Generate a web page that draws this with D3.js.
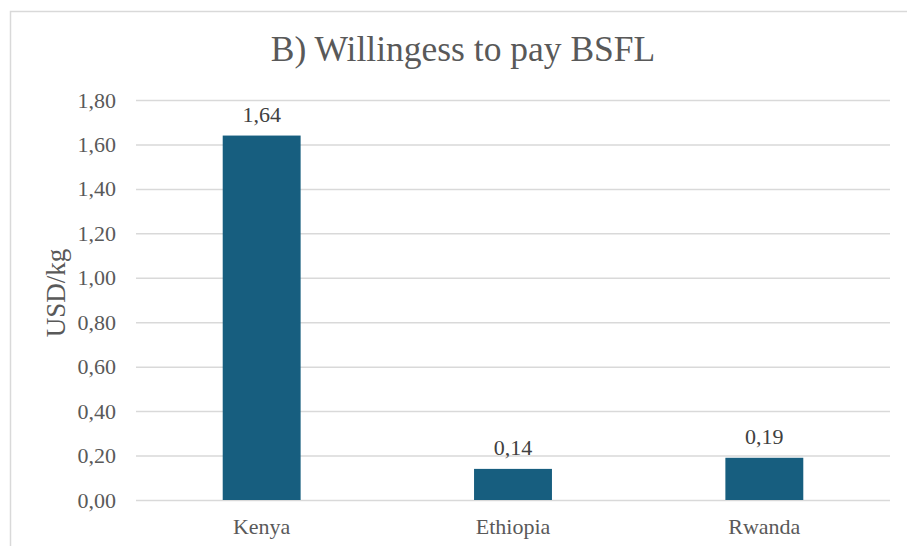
<!DOCTYPE html>
<html>
<head>
<meta charset="utf-8">
<script src="https://cdn.jsdelivr.net/npm/d3@7"></script>
<style>
  html, body { margin: 0; padding: 0; background: #fff; }
  svg { display: block; }
</style>
</head>
<body>
<svg id="chart" width="907" height="546"></svg>
<script>
// Willingness to pay for BSFL, USD per kg
const titleText = "B) Willingess to pay BSFL";
const yAxisLabel = "USD/kg";
const countries = ["Kenya", "Ethiopia", "Rwanda"];
const wtpValues = [1.64, 0.14, 0.19];
const yTicks = [0, 0.2, 0.4, 0.6, 0.8, 1.0, 1.2, 1.4, 1.6, 1.8];

const W = 907, H = 546;
const margin = { left: 136, right: 17, top: 100, bottom: 46 };
const font = "'Liberation Serif', 'Times New Roman', serif";
const textColor = "#595959";
const gridColor = "#d9d9d9";
const barColor = "#175e7f";

const svg = d3.select("#chart");

// chart frame
svg.append("rect")
  .attr("x", 10.5).attr("y", 11.5)
  .attr("width", W + 20).attr("height", H + 20)
  .attr("fill", "#fff")
  .attr("stroke", gridColor).attr("stroke-width", 1.5);

const x = d3.scaleBand()
  .domain(countries)
  .range([margin.left, W - margin.right])
  .paddingInner(0.69)
  .paddingOuter(0.345);

const y = d3.scaleLinear()
  .domain([0, 1.8])
  .range([H - margin.bottom, margin.top]);

const fmt = v => d3.format(".2f")(v).replace(".", ",");

// gridlines + y tick labels
const yAxis = d3.axisLeft(y)
  .tickValues(yTicks)
  .tickSize(-(W - margin.right - margin.left))
  .tickPadding(20)
  .tickFormat(fmt);

const gy = svg.append("g")
  .attr("transform", `translate(${margin.left},0)`)
  .call(yAxis);
gy.select(".domain").remove();
gy.selectAll(".tick line").attr("stroke", gridColor).attr("stroke-width", 1.5);
gy.selectAll(".tick text")
  .attr("fill", textColor)
  .style("font-family", font)
  .style("font-size", "22px");

// x category labels
const xAxis = d3.axisBottom(x).tickSize(0).tickPadding(18);
const gx = svg.append("g")
  .attr("transform", `translate(0,${H - margin.bottom})`)
  .call(xAxis);
gx.select(".domain").remove();
gx.selectAll(".tick text")
  .attr("fill", textColor)
  .style("font-family", font)
  .style("font-size", "22px");

// bars
const data = countries.map((c, i) => ({ country: c, value: wtpValues[i] }));
svg.append("g").selectAll("rect")
  .data(data)
  .join("rect")
  .attr("x", d => x(d.country))
  .attr("y", d => y(d.value))
  .attr("width", x.bandwidth())
  .attr("height", d => y(0) - y(d.value))
  .attr("fill", barColor);

// value labels
svg.append("g").selectAll("text")
  .data(data)
  .join("text")
  .attr("x", d => x(d.country) + x.bandwidth() / 2)
  .attr("y", d => y(d.value) - 14)
  .attr("text-anchor", "middle")
  .attr("fill", "#404040")
  .style("font-family", font)
  .style("font-size", "22px")
  .text(d => fmt(d.value));

// title
svg.append("text")
  .attr("x", 463)
  .attr("y", 61)
  .attr("text-anchor", "middle")
  .attr("fill", textColor)
  .style("font-family", font)
  .style("font-size", "35.5px")
  .text(titleText);

// y axis title
svg.append("text")
  .attr("transform", `translate(65,293) rotate(-90)`)
  .attr("text-anchor", "middle")
  .attr("fill", textColor)
  .style("font-family", font)
  .style("font-size", "27px")
  .text(yAxisLabel);
</script>
</body>
</html>
